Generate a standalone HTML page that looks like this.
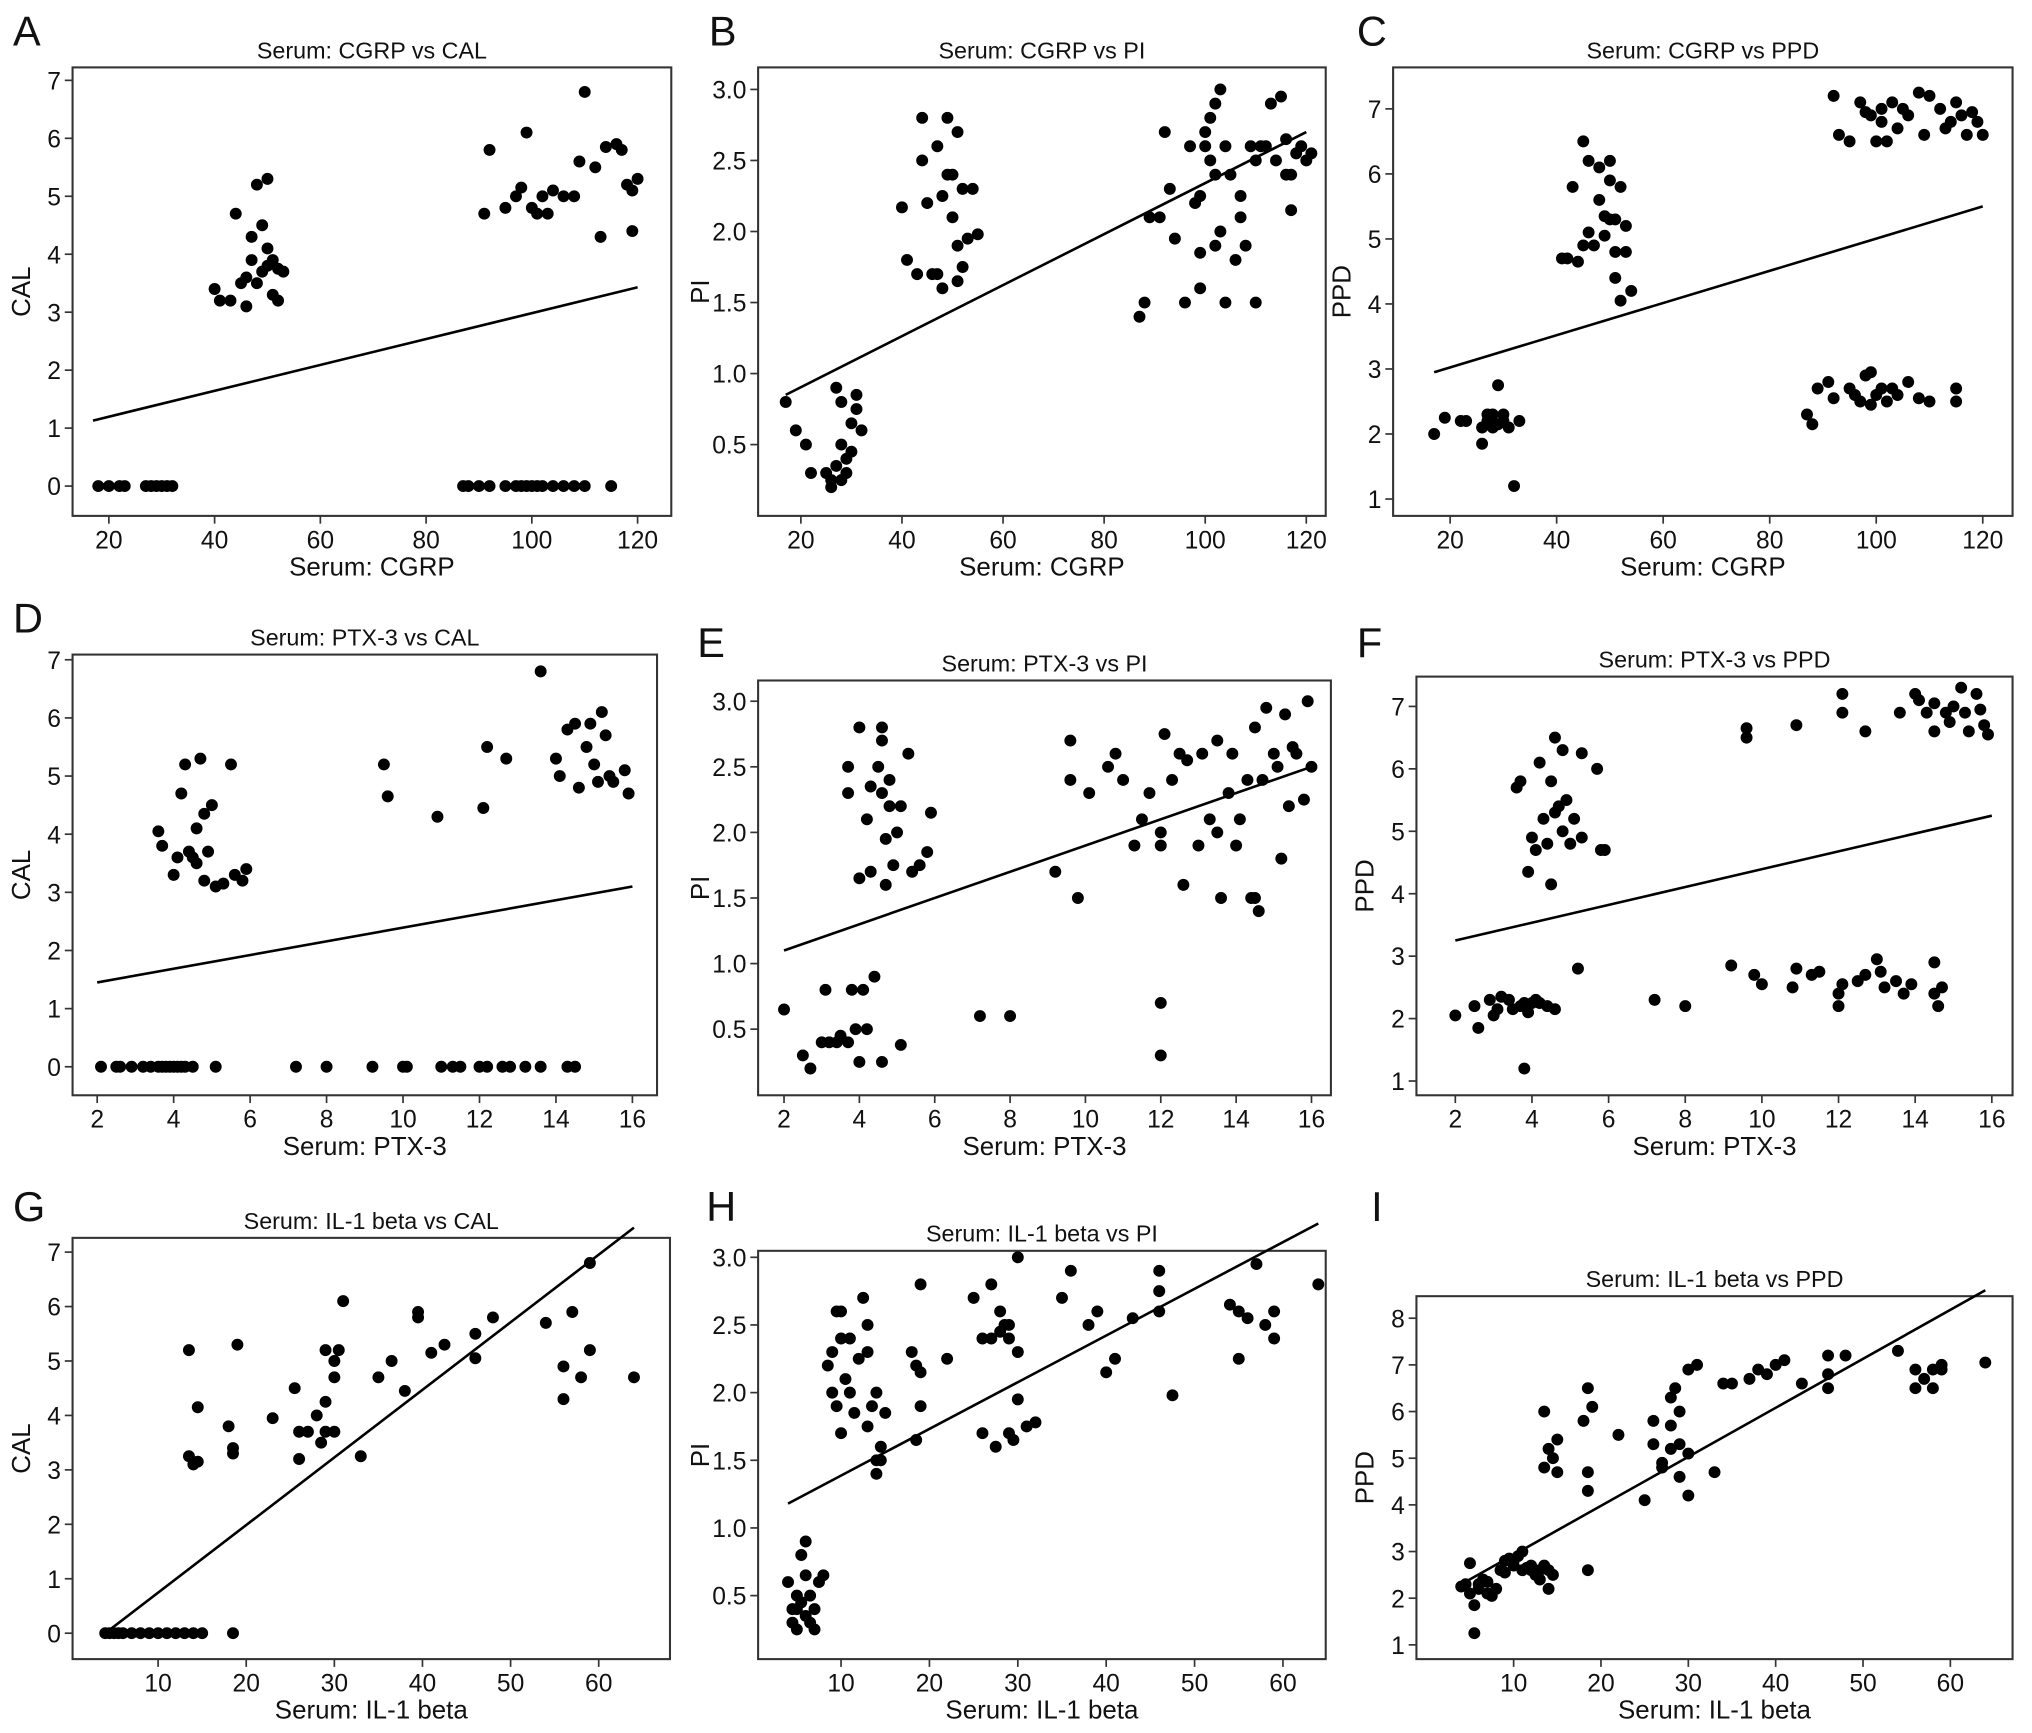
<!DOCTYPE html>
<html><head><meta charset="utf-8"><style>
html,body{margin:0;padding:0;background:#fff}
svg{display:block}
text{font-family:"Liberation Sans",sans-serif;fill:#111}
</style></head><body>
<svg id="fig" width="2032" height="1733" viewBox="0 0 1568 1337" preserveAspectRatio="none" xmlns="http://www.w3.org/2000/svg"></svg>
<script>
// ---------- data ----------
const aX=[18,20,22,23,27,28,29,30,31,32,87,88,90,92,95,97,98,99,100,101,102,104,106,108,110,115,40,41,43,44,45,46,46,47,47,48,48,49,49,50,50,50,51,51,52,52,53,91,92,95,97,98,99,100,101,102,103,104,106,108,109,110,112,113,114,116,117,118,119,119,120];
const aY=[0,0,0,0,0,0,0,0,0,0,0,0,0,0,0,0,0,0,0,0,0,0,0,0,0,0,3.4,3.2,3.2,4.7,3.5,3.1,3.6,4.3,3.9,5.2,3.5,3.7,4.5,5.3,4.1,3.8,3.3,3.9,3.2,3.75,3.7,4.7,5.8,4.8,5.0,5.15,6.1,4.8,4.7,5.0,4.7,5.1,5.0,5.0,5.6,6.8,5.5,4.3,5.85,5.9,5.8,5.2,4.4,5.1,5.3];
const aFit=[[17,1.13],[120,3.43]];
const bX=[17,19,21,22,25,26,26,27,27,28,28,28,29,29,30,30,31,31,32,40,41,43,44,44,45,46,47,47,48,48,49,49,50,50,51,51,51,52,52,53,54,55,87,88,89,91,92,93,94,96,97,98,99,99,99,100,100,101,101,102,102,102,103,103,104,104,105,106,107,107,108,109,110,110,111,112,113,114,115,116,116,117,117,118,119,120,121];
const bY=[0.8,0.6,0.5,0.3,0.3,0.25,0.2,0.9,0.35,0.25,0.5,0.8,0.3,0.4,0.65,0.45,0.75,0.85,0.6,2.17,1.8,1.7,2.8,2.5,2.2,1.7,2.6,1.7,2.25,1.6,2.8,2.4,2.4,2.1,2.7,1.9,1.65,1.75,2.3,1.95,2.3,1.98,1.4,1.5,2.1,2.1,2.7,2.3,1.95,1.5,2.6,2.2,2.25,1.85,1.6,2.7,2.6,2.8,2.5,2.9,2.4,1.9,3.0,2.0,1.5,2.6,2.4,1.8,2.1,2.25,1.9,2.6,1.5,2.5,2.6,2.6,2.9,2.5,2.95,2.65,2.4,2.4,2.15,2.55,2.6,2.5,2.55];
const bFit=[[17,0.85],[120,2.7]];
const cX=[17,19,22,23,26,26,27,27,28,28,29,29,30,30,31,32,33,41,42,43,44,45,45,46,46,47,48,48,49,49,50,50,50,51,51,51,52,52,53,53,54,92,93,95,97,98,99,100,101,101,102,103,104,105,106,108,109,110,112,113,114,115,116,117,118,119,120,87,88,89,91,92,95,96,97,98,99,99,100,101,102,103,104,106,108,110,115,115];
const cY=[2.0,2.25,2.2,2.2,1.85,2.1,2.2,2.3,2.1,2.3,2.75,2.15,2.2,2.3,2.1,1.2,2.2,4.7,4.7,5.8,4.65,4.9,6.5,6.2,5.1,4.9,5.6,6.1,5.35,5.05,5.3,6.2,5.9,4.8,5.3,4.4,4.05,5.8,4.8,5.2,4.2,7.2,6.6,6.5,7.1,6.95,6.9,6.5,7.0,6.8,6.5,7.1,6.7,7.0,6.9,7.25,6.6,7.2,7.0,6.7,6.8,7.1,6.9,6.6,6.95,6.8,6.6,2.3,2.15,2.7,2.8,2.55,2.7,2.6,2.5,2.9,2.95,2.45,2.6,2.7,2.5,2.7,2.6,2.8,2.55,2.5,2.7,2.5];
const cFit=[[17,2.95],[120,5.5]];
const dX=[2.1,2.5,2.6,2.9,3.2,3.4,3.6,3.7,3.8,3.9,4.0,4.1,4.2,4.3,4.5,5.1,7.2,8.0,9.2,10.0,10.1,11.0,11.3,11.5,12.0,12.2,12.6,12.8,13.2,13.6,14.3,14.5,3.6,3.7,4.0,4.1,4.2,4.3,4.4,4.5,4.6,4.6,4.7,4.8,4.8,4.9,5.0,5.1,5.3,5.5,5.6,5.8,5.9,9.5,9.6,10.9,12.1,12.2,12.7,13.6,14.0,14.1,14.3,14.5,14.6,14.8,14.9,15.0,15.1,15.2,15.3,15.4,15.8,15.9,15.5];
const dY=[0,0,0,0,0,0,0,0,0,0,0,0,0,0,0,0,0,0,0,0,0,0,0,0,0,0,0,0,0,0,0,0,4.05,3.8,3.3,3.6,4.7,5.2,3.7,3.6,3.5,4.1,5.3,3.2,4.35,3.7,4.5,3.1,3.15,5.2,3.3,3.2,3.4,5.2,4.65,4.3,4.45,5.5,5.3,6.8,5.3,5.0,5.8,5.9,4.8,5.5,5.9,5.2,4.9,6.1,5.7,5.0,5.1,4.7,4.9];
const dFit=[[2,1.45],[16,3.1]];
const eX=[2.0,2.5,2.7,3.0,3.1,3.2,3.4,3.5,3.7,3.8,3.9,4.0,4.1,4.2,4.4,4.6,5.1,7.2,8.0,12.0,12.0,3.7,3.7,4.0,4.0,4.2,4.3,4.3,4.5,4.6,4.6,4.7,4.7,4.8,4.9,5.0,5.1,5.3,5.4,5.6,5.8,5.9,4.6,4.8,9.2,9.6,9.6,9.8,10.1,10.6,10.8,11.0,11.3,11.5,11.7,12.0,12.0,12.1,12.3,12.5,12.6,12.7,13.0,13.1,13.3,13.5,13.5,13.6,13.8,13.9,14.0,14.1,14.3,14.4,14.5,14.5,14.6,14.7,14.8,15.0,15.1,15.2,15.3,15.4,15.5,15.6,15.8,15.9,16.0];
const eY=[0.65,0.3,0.2,0.4,0.8,0.4,0.4,0.45,0.4,0.8,0.5,0.25,0.8,0.5,0.9,0.25,0.38,0.6,0.6,0.7,0.3,2.5,2.3,1.65,2.8,2.1,2.35,1.7,2.5,2.3,2.8,1.95,1.6,2.2,1.75,2.0,2.2,2.6,1.7,1.75,1.85,2.15,2.7,2.4,1.7,2.4,2.7,1.5,2.3,2.5,2.6,2.4,1.9,2.1,2.3,2.0,1.9,2.75,2.4,2.6,1.6,2.55,1.9,2.6,2.1,2.7,2.0,1.5,2.3,2.6,1.9,2.1,2.4,1.5,2.8,1.5,1.4,2.4,2.95,2.6,2.5,1.8,2.9,2.2,2.65,2.6,2.25,3.0,2.5];
const eFit=[[2,1.1],[16,2.5]];
const fX=[2.0,2.5,2.6,2.9,3.0,3.1,3.2,3.4,3.5,3.7,3.8,3.8,3.9,4.0,4.1,4.2,4.4,4.6,5.2,7.2,8.0,9.2,9.8,10.0,10.8,10.9,11.3,11.5,12.0,12.0,12.1,12.5,12.7,13.0,13.1,13.2,13.5,13.7,13.9,14.5,14.5,14.6,14.7,3.6,3.7,3.9,4.0,4.1,4.2,4.3,4.4,4.5,4.5,4.6,4.6,4.7,4.8,4.8,4.9,5.0,5.1,5.3,5.3,5.7,5.8,5.9,9.6,9.6,10.9,12.1,12.1,12.7,13.6,14.0,14.1,14.3,14.5,14.5,14.8,14.9,15.0,15.2,15.3,15.4,15.6,15.7,15.8,15.9];
const fY=[2.05,2.2,1.85,2.3,2.05,2.15,2.35,2.3,2.15,2.2,2.25,1.2,2.1,2.25,2.3,2.25,2.2,2.15,2.8,2.3,2.2,2.85,2.7,2.55,2.5,2.8,2.7,2.75,2.2,2.4,2.55,2.6,2.7,2.95,2.75,2.5,2.6,2.4,2.55,2.9,2.4,2.2,2.5,5.7,5.8,4.35,4.9,4.7,6.1,5.2,4.8,4.15,5.8,6.5,5.3,5.4,6.3,5.0,5.5,4.8,5.2,4.9,6.25,6.0,4.7,4.7,6.65,6.5,6.7,7.2,6.9,6.6,6.9,7.2,7.1,6.9,7.05,6.6,6.9,6.75,7.0,7.3,6.9,6.6,7.2,6.95,6.7,6.55];
const fFit=[[2,3.25],[16,5.25]];
const gX=[4,4.5,5,5.5,6,7,8,9,10,11,12,13,14,15,18.5,13.5,13.5,14,14.5,14.5,18,18.5,18.5,19,23,25.5,26,26,27,28,28.5,29,29,29,30,30,30,30.5,31,33,35,36.5,38,39.5,39.5,41,42.5,46,46,48,54,56,56,57,58,59,59,64];
const gY=[0,0,0,0,0,0,0,0,0,0,0,0,0,0,0,5.2,3.25,3.1,4.15,3.15,3.8,3.4,3.3,5.3,3.95,4.5,3.2,3.7,3.7,4.0,3.5,5.2,4.25,3.7,4.7,5.0,3.7,5.2,6.1,3.25,4.7,5.0,4.45,5.8,5.9,5.15,5.3,5.5,5.05,5.8,5.7,4.3,4.9,5.9,4.7,6.8,5.2,4.7];
const gFit=[[4,0.0],[64,7.45]];
const hX=[4.0,4.5,5,5,5,5.5,5.5,6,6,6,6.5,6.5,7,7,7.5,8,4.5,8.5,9,9,9.5,9.5,10,10,10,10.5,11,11,11.5,12,12.5,13,13,13,13.5,14,14,14,14.5,14.5,15,18,18.5,18.5,19,19,19,22,25,26,26,27,27,27.5,28,28,28.5,29,29,29,29.5,30,30,30,31,32,35,36,38,39,40,41,43,46,46,46,47.5,54,55,55,56,57,58,59,59,64];
const hY=[0.6,0.3,0.5,0.4,0.25,0.8,0.45,0.9,0.35,0.65,0.3,0.5,0.4,0.25,0.6,0.65,0.4,2.2,2.3,2.0,2.6,1.9,2.6,2.4,1.7,2.1,2.4,2.0,1.85,2.25,2.7,2.5,2.3,1.75,1.9,1.5,1.4,2.0,1.6,1.5,1.85,2.3,1.65,2.2,1.9,2.15,2.8,2.25,2.7,1.7,2.4,2.4,2.8,1.6,2.45,2.6,2.5,2.5,2.4,1.7,1.65,3.0,2.3,1.95,1.75,1.78,2.7,2.9,2.5,2.6,2.15,2.25,2.55,2.9,2.75,2.6,1.98,2.65,2.6,2.25,2.55,2.95,2.5,2.4,2.6,2.8];
const hFit=[[4,1.18],[64,3.25]];
const iX=[4,4.5,5,5,5.5,5.5,6,6,6.5,7,7,7.5,8,8.5,9,9,9.5,10,10,10.5,11,11,11.5,12,12,12.5,13,13,13.5,14,14,14.5,13.5,13.5,14,14.5,15,15,18,18.5,18.5,18.5,18.5,19,22,25,26,26,27,27,28,28,28,28.5,29,29,29,30,30,30,31,33,34,35,37,38,39,40,41,43,46,46,46,48,54,56,56,57,58,58,59,59,64];
const iY=[2.25,2.3,2.1,2.75,1.85,1.25,2.3,2.2,2.4,2.1,2.35,2.05,2.2,2.6,2.8,2.55,2.85,2.8,2.7,2.9,2.6,3.0,2.65,2.7,2.6,2.5,2.6,2.4,2.7,2.6,2.2,2.5,6.0,4.8,5.2,5.0,4.7,5.4,5.8,6.5,4.7,4.3,2.6,6.1,5.5,4.1,5.3,5.8,4.9,4.8,5.7,6.3,5.2,6.5,6.0,5.3,4.6,4.2,5.1,6.9,7.0,4.7,6.6,6.6,6.7,6.9,6.8,7.0,7.1,6.6,7.2,6.8,6.5,7.2,7.3,6.9,6.5,6.7,6.5,6.9,7.0,6.9,7.05];
const iFit=[[4,2.3],[64,8.6]];
// tick labels
const cgrpTicks=[20,40,60,80,100,120];
const ptxTicks=[2,4,6,8,10,12,14,16];
const ilTicks=[10,20,30,40,50,60];
const calTicks=[0,1,2,3,4,5,6,7];
const piTicks=[0.5,1.0,1.5,2.0,2.5,3.0];
const ppdTicks=[1,2,3,4,5,6,7];
const ppdTicks8=[1,2,3,4,5,6,7,8];

// ---------- layout ----------
const panels=[
 {id:'a',L:'A',lx:10,ly:35,title:'Serum: CGRP vs CAL',xl:'Serum: CGRP',yl:'CAL',box:[56,52,518,398],xa:[20,84,120,492],ya:[0,375,7,62],xs:aX,ys:aY,fit:aFit,xt:cgrpTicks,yt:calTicks,fmt:0},
 {id:'b',L:'B',lx:547,ly:35,title:'Serum: CGRP vs PI',xl:'Serum: CGRP',yl:'PI',box:[585,52,1023,398],xa:[20,618,120,1008],ya:[0.5,343,3.0,69],xs:bX,ys:bY,fit:bFit,xt:cgrpTicks,yt:piTicks,fmt:1},
 {id:'c',L:'C',lx:1047,ly:35,title:'Serum: CGRP vs PPD',xl:'Serum: CGRP',yl:'PPD',box:[1075,52,1553,398],xa:[20,1119,120,1530],ya:[1,385,7,84],xs:cX,ys:cY,fit:cFit,xt:cgrpTicks,yt:ppdTicks,fmt:0},
 {id:'d',L:'D',lx:10,ly:488,title:'Serum: PTX-3 vs CAL',xl:'Serum: PTX-3',yl:'CAL',box:[56,505,507,845],xa:[2,75,16,488],ya:[0,823,7,509],xs:dX,ys:dY,fit:dFit,xt:ptxTicks,yt:calTicks,fmt:0},
 {id:'e',L:'E',lx:538,ly:507,title:'Serum: PTX-3 vs PI',xl:'Serum: PTX-3',yl:'PI',box:[585,525,1027,845],xa:[2,605,16,1012],ya:[0.5,794,3.0,541],xs:eX,ys:eY,fit:eFit,xt:ptxTicks,yt:piTicks,fmt:1},
 {id:'f',L:'F',lx:1047,ly:507,title:'Serum: PTX-3 vs PPD',xl:'Serum: PTX-3',yl:'PPD',box:[1093,522,1553,845],xa:[2,1123,16,1537],ya:[1,834,7,545],xs:fX,ys:fY,fit:fFit,xt:ptxTicks,yt:ppdTicks,fmt:0},
 {id:'g',L:'G',lx:10,ly:942,title:'Serum: IL-1 beta vs CAL',xl:'Serum: IL-1 beta',yl:'CAL',box:[56,955,517,1280],xa:[10,122,60,462],ya:[0,1260,7,966],xs:gX,ys:gY,fit:gFit,xt:ilTicks,yt:calTicks,fmt:0},
 {id:'h',L:'H',lx:545,ly:942,title:'Serum: IL-1 beta vs PI',xl:'Serum: IL-1 beta',yl:'PI',box:[585,965,1023,1280],xa:[10,649,60,990],ya:[0.5,1231,3.0,970],xs:hX,ys:hY,fit:hFit,xt:ilTicks,yt:piTicks,fmt:1},
 {id:'i',L:'I',lx:1058,ly:942,title:'Serum: IL-1 beta vs PPD',xl:'Serum: IL-1 beta',yl:'PPD',box:[1093,1000,1553,1280],xa:[10,1168,60,1505],ya:[1,1269,8,1017],xs:iX,ys:iY,fit:iFit,xt:ilTicks,yt:ppdTicks8,fmt:0}
];
const NS='http://www.w3.org/2000/svg';
const svg=document.getElementById('fig');
function mk(tag,attrs,parent,txt){const e=document.createElementNS(NS,tag);for(const k in attrs)e.setAttribute(k,attrs[k]);if(txt!==undefined)e.textContent=txt;parent.appendChild(e);return e;}
panels.forEach(p=>{
 const g=mk('g',{},svg);
 
 
 const sx=v=>p.xa[1]+(v-p.xa[0])*(p.xa[3]-p.xa[1])/(p.xa[2]-p.xa[0]);
 const sy=v=>p.ya[1]+(v-p.ya[0])*(p.ya[3]-p.ya[1])/(p.ya[2]-p.ya[0]);
 const [x0,y0,x1,y1]=p.box;
 const lt=mk('text',{x:p.lx,y:p.ly,'font-size':32},g,p.L);
 
 
 const tt=mk('text',{x:(x0+x1)/2,y:y0-7,'font-size':18,'text-anchor':'middle'},g,p.title);
 
 
 const bx=mk('rect',{x:x0,y:y0,width:x1-x0,height:y1-y0,fill:'none',stroke:'#333','stroke-width':1.6},g);
 
 
 p.xt.forEach(t=>{const x=sx(t);
  const l=mk('line',{x1:x,x2:x,y1:y1,y2:y1+6,stroke:'#333','stroke-width':1.3},g);
  
  
  const tx=mk('text',{x:x,y:y1+25,'font-size':19,'text-anchor':'middle'},g,String(t));
  
  
 });
 p.yt.forEach(t=>{const y=sy(t);
  const l=mk('line',{x1:x0-6,x2:x0,y1:y,y2:y,stroke:'#333','stroke-width':1.3},g);
  
  
  const tx=mk('text',{x:x0-9,y:y+7,'font-size':19,'text-anchor':'end'},g,p.fmt?t.toFixed(1):String(t));
  
  
 });
 const xlab=mk('text',{x:(x0+x1)/2,y:y1+46,'font-size':20,'text-anchor':'middle'},g,p.xl);
 
 
 const yc=(y0+y1)/2, xc=x0-(p.fmt?38:33);
 const ylab=mk('text',{x:xc,y:yc,'font-size':20,'text-anchor':'middle',transform:`rotate(-90 ${xc} ${yc})`},g,p.yl);
 
 
 p.xs.forEach((v,k)=>{
  const c=mk('circle',{cx:sx(v),cy:sy(p.ys[k]),r:4.6,fill:'#000'},g);
  
  
 });
 const fl=mk('line',{x1:sx(p.fit[0][0]),y1:sy(p.fit[0][1]),x2:sx(p.fit[1][0]),y2:sy(p.fit[1][1]),stroke:'#000','stroke-width':2},g);
 
 
});
</script>
</body></html>
